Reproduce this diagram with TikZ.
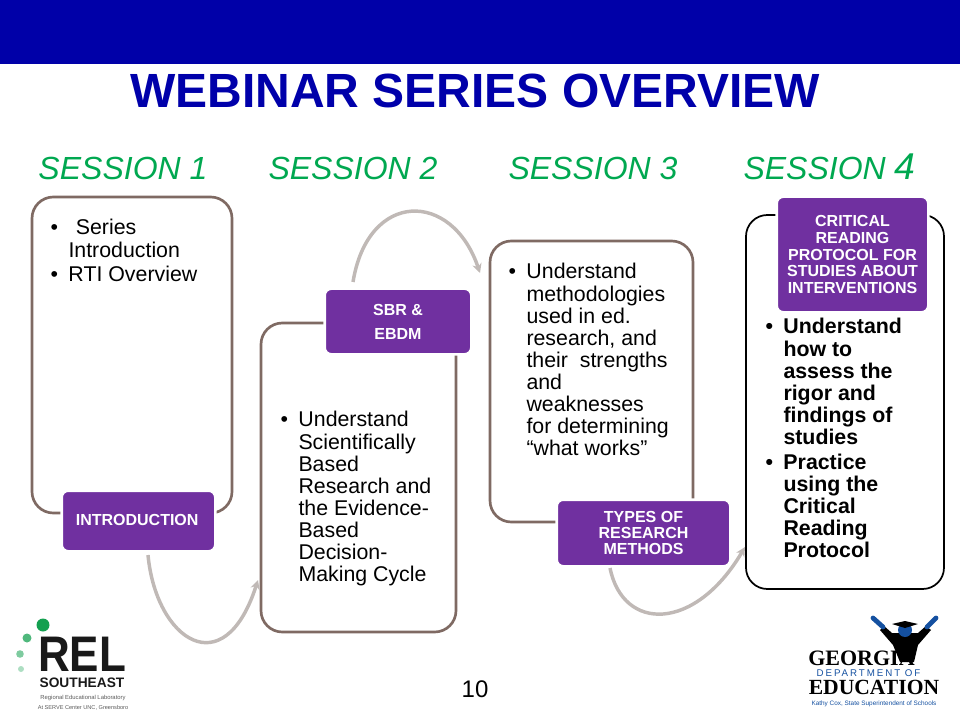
\documentclass[tikz,border=0pt]{standalone}
\usepackage{fontspec}
\setmainfont{Liberation Sans}
\newfontfamily\gaserif{Liberation Serif}
\usetikzlibrary{arrows.meta}

\definecolor{barblue}{RGB}{0,0,168}
\definecolor{titleblue}{RGB}{0,0,170}
\definecolor{sessiongreen}{RGB}{0,168,80}
\definecolor{tagpurple}{RGB}{112,48,160}
\definecolor{boxbrown}{RGB}{127,106,99}
\definecolor{curvegrey}{RGB}{192,185,182}
\definecolor{relgreen}{RGB}{20,160,80}
\definecolor{gablue}{RGB}{20,80,160}

\newcommand{\bulitem}[1]{\makebox[13.5pt][l]{\textbullet}\begin{tabular}[t]{@{}l@{}}#1\end{tabular}}

\tikzset{
	every picture/.style={line width=0.75pt},
	sessionlabel/.style={anchor=base west,inner sep=0pt,text=sessiongreen,font=\fontsize{24}{26}\selectfont\itshape},
	sessionbox/.style={draw=boxbrown,line width=2pt,rounded corners=16pt,fill=white,inner sep=0pt},
	tagbox/.style={draw=white,line width=2pt,fill=tagpurple,rounded corners=5pt,text=white,align=center,inner sep=0pt,font=\fontsize{12}{12}\selectfont\bfseries},
	bodytext/.style={anchor=north west,inner sep=0pt,align=left,font=\fontsize{16}{16.5}\selectfont},
	curvearrow/.style={draw=curvegrey,line width=2.6pt,-{Stealth[length=7pt,width=7pt]}},
	logotext/.style={anchor=base,inner sep=0pt},
}

\begin{document}
\begin{tikzpicture}[x=0.75pt,y=0.75pt,yscale=-1,xscale=1]
		\useasboundingbox (0,0) rectangle (960,720);
		%Shape: Rectangle [top bar]
		\fill [barblue] (0,0) rectangle (960,64);

		% Text Node
		\node [anchor=base,inner sep=0pt,text=titleblue,font=\fontsize{36}{38}\selectfont\bfseries] (title) at (475,108) {WEBINAR SERIES OVERVIEW};
		% Text Node
		\node [sessionlabel] (sessionone) at (38,180) {SESSION 1};
		\node [sessionlabel] (sessiontwo) at (268,180) {SESSION 2};
		\node [sessionlabel] (sessionthree) at (508,180) {SESSION 3};
		\node [sessionlabel] (sessionfour) at (743,180) {SESSION {\fontsize{28}{28}\selectfont 4}};

		%Shape: Rounded Rectangle
		\node [sessionbox,minimum width=150pt,minimum height=237pt] (boxone) at (132,355) {};
		\node [sessionbox,minimum width=146.25pt,minimum height=231.75pt] (boxtwo) at (358.5,477.5) {};
		\node [sessionbox,minimum width=152.25pt,minimum height=210.75pt] (boxthree) at (591.5,381.5) {};
		\node [sessionbox,draw=black,line width=1.3pt,minimum width=148.5pt,minimum height=280.5pt] (boxfour) at (845,402) {};

		%Shape: Rounded Rectangle
		\node [tagbox,minimum width=115.25pt,minimum height=45.5pt] (tagone) at (138.5,521) {\raisebox{1.2pt}{INTRODUCTION\hspace{2pt}}};
		\node [tagbox,minimum width=110pt,minimum height=49.25pt,font=\fontsize{12}{18}\selectfont\bfseries] (tagtwo) at (398,321.5) {SBR \&\\EBDM};
		\node [tagbox,minimum width=130.25pt,minimum height=50pt] (tagthree) at (643.5,533) {TYPES OF\\RESEARCH\\METHODS};
		\node [tagbox,minimum width=113.75pt,minimum height=86.75pt,font=\fontsize{12}{12.4}\selectfont\bfseries] (tagfour) at (852.5,254.5) {CRITICAL\\READING\\PROTOCOL FOR\\STUDIES ABOUT\\INTERVENTIONS};

		% Text Node
		\node [bodytext] (textone) at (50,219) {\bulitem{\hspace{5.5pt}Series\\Introduction}\\[1pt]\bulitem{RTI Overview}};
		\node [bodytext] (texttwo) at (280,411) {\bulitem{Understand\\Scientifically\\Based\\Research and\\the Evidence-\\Based\\Decision-\\Making Cycle}};
		\node [bodytext] (textthree) at (508,263) {\bulitem{Understand\\methodologies\\used in ed.\\research, and\\their~ strengths\\and\\weaknesses\\for determining\\“what works”}};
		\node [bodytext,font=\fontsize{16}{16.5}\selectfont\bfseries] (textfour) at (765,318) {\bulitem{Understand\\how to\\assess the\\rigor and\\findings of\\studies}\\[1.2pt]\bulitem{Practice\\using the\\Critical\\Reading\\Protocol}};

		%Curve Lines
		\coordinate (startone) at (148,555);
		\coordinate (endone) at (258,580);
		\coordinate (starttwo) at (353,282);
		\coordinate (endtwo) at (480,273);
		\coordinate (startthree) at (610,568);
		\coordinate (endthree) at (745,547);
		\draw [curvearrow] (startone) .. controls (156,640) and (224,686) .. (endone);
		\draw [curvearrow] (starttwo) .. controls (368,190) and (452,190) .. (endtwo);
		\draw [curvearrow] (startthree) .. controls (623,632) and (695,632) .. (endthree);

		% Text Node
		\node [anchor=base,inner sep=0pt,font=\fontsize{18}{20}\selectfont] (pagenum) at (475,697) {10};

		%Shape: Circle [REL logo]
		\fill [relgreen] (43,625) circle (6.5);
		\fill [relgreen!75!white] (27,638) circle (4.5);
		\fill [relgreen!55!white] (20,654) circle (3.8);
		\fill [relgreen!35!white] (21,669) circle (3);
		% Text Node
		\node [logotext,text=black!90,font=\fontsize{37.5}{39}\selectfont\bfseries] (rel) at (82,671) {\scalebox{0.88}[1]{REL}};
		\node [logotext,text=black!90,font=\fontsize{10.3}{11}\selectfont\bfseries] (southeast) at (82,687) {SOUTHEAST};
		\node [logotext,text=black!65,font=\fontsize{4.4}{5}\selectfont] (regional) at (83,699) {Regional Educational Laboratory};
		\node [logotext,text=black!65,font=\fontsize{4.2}{5}\selectfont] (serve) at (83,709) {At SERVE Center UNC, Greensboro};

		%Shape: Polygon [Georgia figure]
		\fill [black] (884,626) -- (892,633) -- (918,633) -- (926,626) -- (931,630) -- (918,645) -- (914,662) -- (900,662) -- (893,645) -- (880,630) -- cycle;
		\draw [gablue,line width=3.6pt,line cap=round] (873,618) -- (883,627);
		\draw [gablue,line width=3.6pt,line cap=round] (936,618) -- (927,627);
		\fill [gablue] (905,630) circle (7);
		\fill [black] (892,624) -- (905,621) -- (918,624) -- (905,628) -- cycle;
		% Text Node
		\node [logotext,font=\fontsize{16.5}{18}\selectfont\gaserif\bfseries] (georgia) at (861.5,665) {GEORGIA};
		\node [logotext,text=gablue,font=\fontsize{7.3}{8}\selectfont\addfontfeatures{LetterSpace=20}] (department) at (868.5,676) {DEPARTMENT OF};
		\node [logotext,font=\fontsize{16.2}{18}\selectfont\gaserif\bfseries] (education) at (874,694) {EDUCATION};
		\node [logotext,text=gablue,font=\fontsize{4.8}{6}\selectfont] (kathy) at (874,705) {Kathy Cox, State Superintendent of Schools};
	\end{tikzpicture}
\end{document}
